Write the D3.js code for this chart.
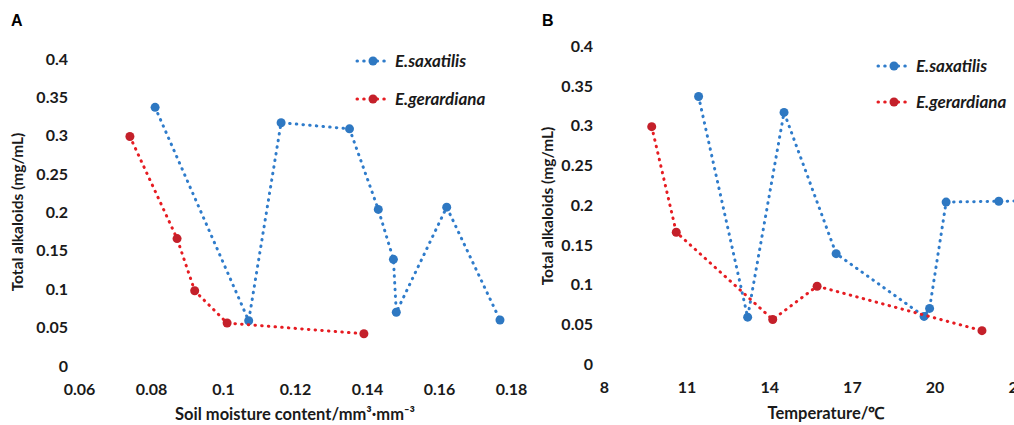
<!DOCTYPE html>
<html>
<head>
<meta charset="utf-8">
<script src="https://cdn.jsdelivr.net/npm/d3@7"></script>
<style>
  body { margin: 0; background: #fff; }
  svg text { font-family: Lato, "Open Sans", sans-serif; font-weight: bold; fill: #1a1a1a; }
</style>
</head>
<body>
<svg id="chart" width="1014" height="425"></svg>
<script>
// panel A: soil moisture
const moistSaxX = [0.081, 0.107, 0.116, 0.135, 0.143, 0.1472, 0.148, 0.162, 0.1768];
const moistSaxY = [0.337, 0.059, 0.317, 0.309, 0.204, 0.139, 0.070, 0.207, 0.060];
const moistGerX = [0.074, 0.0871, 0.092, 0.101, 0.139];
const moistGerY = [0.299, 0.166, 0.098, 0.056, 0.042];
const moistTicks = [0.06, 0.08, 0.1, 0.12, 0.14, 0.16, 0.18];

// panel B: temperature
const tempSaxX = [11.42, 13.2, 14.52, 16.41, 19.6, 19.8, 20.4, 22.31, 24.5];
const tempSaxY = [0.337, 0.059, 0.317, 0.139, 0.060, 0.070, 0.204, 0.205, 0.206];
const tempGerX = [9.72, 10.61, 14.11, 15.72, 21.7];
const tempGerY = [0.299, 0.166, 0.056, 0.098, 0.042];
const tempTicks = [8, 11, 14, 17, 20, 23];

const yTicks = [0, 0.05, 0.1, 0.15, 0.2, 0.25, 0.3, 0.35, 0.4];
const seriesNames = ["E.saxatilis", "E.gerardiana"];

const BLUE = "#2e78c2", BLUE_LINE = "#2f7ccb";
const RED = "#c4202a", RED_LINE = "#e61c22";

const svg = d3.select("#chart");

function zip(xs, ys) { return xs.map((x, i) => ({ x, y: ys[i] })); }

function drawPanel(cfg) {
    const g = svg.append("g");

    const x = d3.scaleLinear().domain(cfg.xDomain).range(cfg.xRange);
    const y = d3.scaleLinear().domain([0, 0.4]).range(cfg.yRange);

    // panel letter
    g.append("text")
        .attr("x", cfg.letterX).attr("y", 26)
        .style("font-family", "Liberation Sans, Arial, sans-serif")
        .style("font-size", "16px")
        .style("fill", "#000")
        .text(cfg.letter);

    // y tick labels
    g.selectAll(".ytick")
        .data(yTicks)
        .enter().append("text")
        .attr("x", cfg.yLabelX)
        .attr("y", d => y(d))
        .attr("dy", "0.35em")
        .attr("text-anchor", "end")
        .style("font-size", "16px")
        .text(d => d3.format("")(d));

    // x tick labels
    g.selectAll(".xtick")
        .data(cfg.xTicks)
        .enter().append("text")
        .attr("x", d => x(d))
        .attr("y", cfg.xLabelY)
        .attr("dy", "0.35em")
        .attr("text-anchor", "middle")
        .style("font-size", "16px")
        .text(d => d3.format("")(d));

    // y axis title
    g.append("text")
        .attr("transform", `translate(${cfg.yTitleX},${cfg.yTitleY}) rotate(-90)`)
        .attr("text-anchor", "middle")
        .attr("dy", "0.35em")
        .style("font-size", "15.5px")
        .text("Total alkaloids (mg/mL)");

    // x axis title
    const xt = g.append("text")
        .attr("x", cfg.xTitleX).attr("y", cfg.xTitleY)
        .attr("text-anchor", "middle")
        .attr("dy", "0.35em")
        .style("font-size", "16.5px");
    cfg.xTitle(xt);

    const line = d3.line().x(d => x(d.x)).y(d => y(d.y));
    const series = [
        { data: zip(cfg.saxX, cfg.saxY), color: BLUE, lineColor: BLUE_LINE },
        { data: zip(cfg.gerX, cfg.gerY), color: RED, lineColor: RED_LINE }
    ];

    series.forEach(s => {
        g.append("path")
            .datum(s.data)
            .attr("d", line)
            .attr("fill", "none")
            .attr("stroke", s.lineColor)
            .attr("stroke-width", 3)
            .attr("stroke-linecap", "round")
            .attr("stroke-dasharray", "0.5,6.2");
        g.selectAll(null)
            .data(s.data)
            .enter().append("circle")
            .attr("cx", d => x(d.x))
            .attr("cy", d => y(d.y))
            .attr("r", 4.5)
            .attr("fill", s.color);
    });

    // legend
    series.forEach((s, i) => {
        const ly = cfg.legendY[i];
        g.append("line")
            .attr("x1", cfg.legendX).attr("x2", cfg.legendX + 29)
            .attr("y1", ly).attr("y2", ly)
            .attr("stroke", s.lineColor)
            .attr("stroke-width", 3)
            .attr("stroke-linecap", "round")
            .attr("stroke-dasharray", "0.5,6.2");
        g.append("circle")
            .attr("cx", cfg.legendX + 16).attr("cy", ly)
            .attr("r", 4.5).attr("fill", s.color);
        g.append("text")
            .attr("x", cfg.legendX + 38).attr("y", ly)
            .attr("dy", "0.35em")
            .style("font-size", "17px")
            .style("font-style", "italic")
            .text(seriesNames[i]);
    });
}

drawPanel({
    letter: "A", letterX: 11,
    xDomain: [0.06, 0.18], xRange: [79.5, 511.5],
    yRange: [366, 59],
    xTicks: moistTicks,
    saxX: moistSaxX, saxY: moistSaxY, gerX: moistGerX, gerY: moistGerY,
    yLabelX: 68, xLabelY: 389,
    yTitleX: 18, yTitleY: 212,
    xTitleX: 295, xTitleY: 414,
    xTitle: t => { t.append("tspan").text("Soil moisture content/mm");
                   t.append("tspan").text("³·mm⁻³"); },
    legendX: 357, legendY: [61, 99]
});

drawPanel({
    letter: "B", letterX: 542,
    xDomain: [8, 23], xRange: [604.3, 1017.8],
    yRange: [364, 46.5],
    xTicks: tempTicks,
    saxX: tempSaxX, saxY: tempSaxY, gerX: tempGerX, gerY: tempGerY,
    yLabelX: 593, xLabelY: 387,
    yTitleX: 548, yTitleY: 206,
    xTitleX: 826, xTitleY: 413,
    xTitle: t => t.text("Temperature/℃"),
    legendX: 878, legendY: [66, 102]
});
</script>
</body>
</html>
